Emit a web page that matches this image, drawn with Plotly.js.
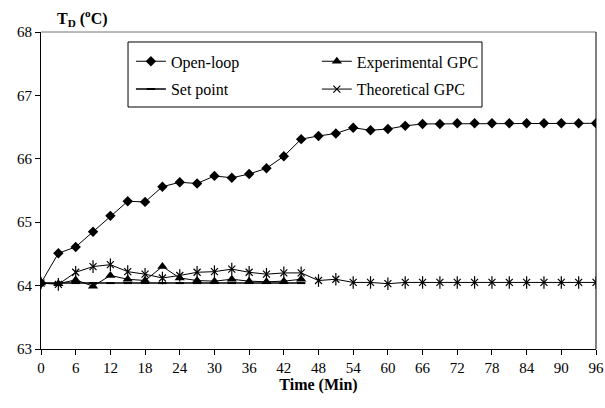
<!DOCTYPE html>
<html>
<head>
<meta charset="utf-8">
<script src="https://cdn.plot.ly/plotly-3.0.1.min.js"></script>
<style>html,body{margin:0;padding:0;background:#fff;}#chart{width:605px;height:408px;}</style>
</head>
<body>
<div id="chart"></div>
<script>
// Time (min)
const timeAll = [0,3,6,9,12,15,18,21,24,27,30,33,36,39,42,45,48,51,54,57,60,63,66,69,72,75,78,81,84,87,90,93,96];
const timeGPC = [0,3,6,9,12,15,18,21,24,27,30,33,36,39,42,45];

const openLoop = [64.04,64.51,64.61,64.85,65.10,65.33,65.32,65.56,65.63,65.61,65.73,65.70,65.76,65.85,66.04,66.31,66.36,66.40,66.49,66.45,66.47,66.52,66.55,66.55,66.56,66.56,66.56,66.56,66.56,66.56,66.56,66.56,66.56];
const experimentalGPC = [64.04,64.03,64.09,63.99,64.16,64.10,64.08,64.30,64.12,64.08,64.07,64.10,64.07,64.06,64.07,64.10];
const setPoint = [64.04,64.04,64.04,64.04,64.04,64.04,64.04,64.04,64.04,64.04,64.04,64.04,64.04,64.04,64.04,64.04];
const theoreticalGPC = [64.04,64.02,64.21,64.30,64.33,64.22,64.18,64.12,64.16,64.21,64.22,64.26,64.21,64.18,64.20,64.20,64.08,64.10,64.05,64.05,64.03,64.05,64.05,64.05,64.05,64.05,64.05,64.05,64.05,64.05,64.05,64.05,64.05];

const xTicks = [0,6,12,18,24,30,36,42,48,54,60,66,72,78,84,90,96];
const seriesNames = ['Open-loop','Experimental GPC','Set point','Theoretical GPC'];

const FONT = 'Liberation Serif, Times New Roman, serif';

const traces = [
  {x: timeAll, y: openLoop, name: seriesNames[0], mode: 'lines+markers', legend: 'legend', legendgroup: 'a',
   line: {color: '#000', width: 1}, marker: {symbol: 'diamond', size: 8, color: '#000'}},
  {x: timeGPC, y: setPoint, name: seriesNames[2], mode: 'lines+markers', legend: 'legend', legendgroup: 'b',
   line: {color: '#000', width: 1.5}, marker: {symbol: 'line-ew-open', size: 6, color: '#000', line: {color: '#000', width: 2}}},
  {x: timeGPC, y: experimentalGPC, name: seriesNames[1], mode: 'lines+markers', legend: 'legend2', legendgroup: 'c',
   line: {color: '#000', width: 1}, marker: {symbol: 'triangle-up', size: 9, color: '#000'}},
  {x: timeAll, y: theoreticalGPC, name: seriesNames[3], mode: 'lines+markers', legend: 'legend2', legendgroup: 'd',
   line: {color: '#000', width: 1}, marker: {symbol: 'x-thin-open', size: 7, color: '#000', line: {color: '#000', width: 1.2}}},
  {x: timeAll, y: theoreticalGPC, name: seriesNames[3], mode: 'markers', showlegend: false,
   marker: {symbol: 'line-ns-open', size: 9, color: '#000', line: {color: '#000', width: 1.2}}}
];

const layout = {
  width: 605, height: 408,
  margin: {l: 41, r: 9, t: 32, b: 59},
  paper_bgcolor: '#fff', plot_bgcolor: '#fff',
  font: {family: FONT, size: 15, color: '#000'},
  showlegend: true,
  xaxis: {
    range: [0, 96], tickvals: xTicks, ticktext: xTicks.map(String),
    ticks: 'outside', ticklen: 5, tickwidth: 1, tickcolor: '#000',
    showline: true, linecolor: '#000', linewidth: 1, showgrid: false, zeroline: false,
    tickfont: {family: FONT, size: 15},
    title: {text: '<b>Time (Min)</b>', font: {family: FONT, size: 16}, standoff: 0}
  },
  yaxis: {
    range: [63, 68], dtick: 1, tick0: 63,
    ticks: 'outside', ticklen: 5, tickwidth: 1, tickcolor: '#000',
    showline: true, linecolor: '#000', linewidth: 1, showgrid: false, zeroline: false,
    tickfont: {family: FONT, size: 15}
  },
  legend: {x: 0.162, y: 0.961, xanchor: 'left', yanchor: 'top', bgcolor: 'rgba(0,0,0,0)',
    borderwidth: 0, font: {family: FONT, size: 16}, tracegroupgap: 4},
  legend2: {x: 0.497, y: 0.961, xanchor: 'left', yanchor: 'top', bgcolor: 'rgba(0,0,0,0)',
    borderwidth: 0, font: {family: FONT, size: 16}, tracegroupgap: 4},
  shapes: [
    {type: 'rect', xref: 'paper', yref: 'paper', x0: 0.1568, x1: 0.7946, y0: 0.7634, y1: 0.9685,
     line: {color: '#000', width: 1}, fillcolor: '#fff', layer: 'below'},
    {type: 'line', xref: 'paper', yref: 'paper', x0: 0, x1: 1, y0: 1, y1: 1, line: {color: '#777', width: 1}},
    {type: 'line', xref: 'paper', yref: 'paper', x0: 1, x1: 1, y0: 0, y1: 1, line: {color: '#000', width: 1}}
  ],
  annotations: [
    {xref: 'paper', yref: 'paper', x: 0.025, y: 1.045, xanchor: 'left', yanchor: 'middle', showarrow: false,
     text: '<b>T<sub>D</sub> (<sup>o</sup>C)</b>', font: {family: FONT, size: 16}}
  ]
};

Plotly.newPlot('chart', traces, layout, {displayModeBar: false, staticPlot: true});
</script>
</body>
</html>
